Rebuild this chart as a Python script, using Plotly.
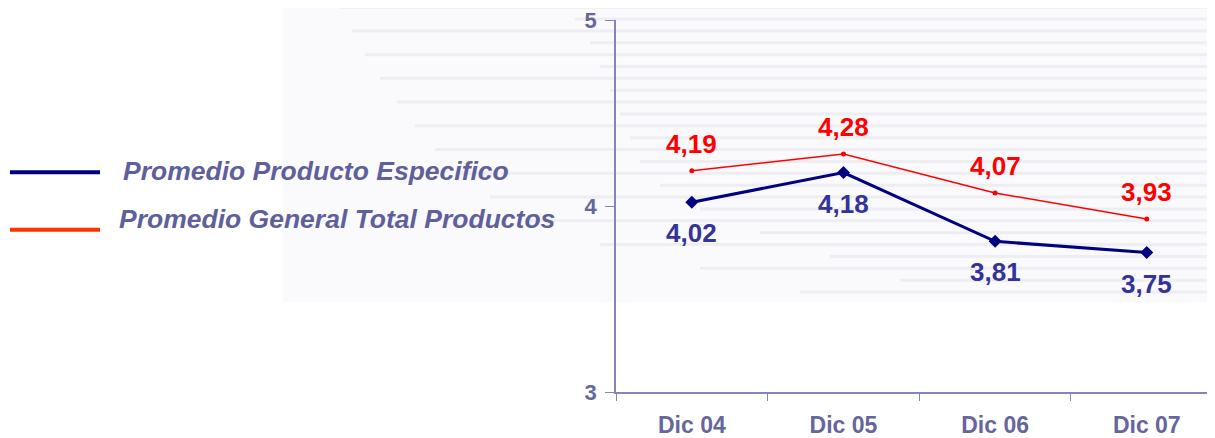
import plotly.graph_objects as go

categories = ["Dic 04", "Dic 05", "Dic 06", "Dic 07"]
producto_especifico = [4.02, 4.18, 3.81, 3.75]
general_total = [4.19, 4.28, 4.07, 3.93]
series_names = ["Promedio Producto Especifico", "Promedio General Total Productos"]
y_ticks = [3, 4, 5]

FONT = "Liberation Sans, Arial, sans-serif"
OFF = 8  # page body margin
W, H = 1215 - OFF, 438 - OFF
L, R, T, B = 616 - OFF, 0, 18 - OFF, 44
pw, ph = W - L - R, H - T - B


def px(x):  # page pixel -> paper x
    return (x - OFF - L) / pw


def py(y):  # page pixel -> paper y
    return (H - B - (y - OFF)) / ph


def fmt(v):
    return f"{v:.2f}".replace(".", ",")


fig = go.Figure()
fig.add_trace(go.Scatter(
    x=categories, y=general_total, mode="lines+markers",
    line=dict(color="#ff0000", width=1.5),
    marker=dict(symbol="circle", size=5, color="#ff0000"),
    showlegend=False, cliponaxis=False,
))
fig.add_trace(go.Scatter(
    x=categories, y=producto_especifico, mode="lines+markers",
    line=dict(color="#000080", width=3),
    marker=dict(symbol="diamond", size=10, color="#000080"),
    showlegend=False, cliponaxis=False,
))

annotations = []
for c, v in zip(categories, general_total):
    annotations.append(dict(x=c, y=v, text=fmt(v), showarrow=False, yshift=27,
                            xanchor="center", yanchor="middle",
                            font=dict(family=FONT, size=26, color="#ff0000", weight="bold")))
for c, v in zip(categories, producto_especifico):
    annotations.append(dict(x=c, y=v, text=fmt(v), showarrow=False, yshift=-31,
                            xanchor="center", yanchor="middle",
                            font=dict(family=FONT, size=26, color="#333399", weight="bold")))

shapes = []
# faint striped background decoration
shapes.append(dict(type="rect", xref="paper", yref="paper", x0=px(283), x1=px(1215),
                   y0=py(303), y1=py(0), fillcolor="#fafafc", line=dict(width=0), layer="below"))
lefts = [340, 575, 352, 590, 365, 600, 380, 610, 397, 620, 415, 630, 435, 640, 455, 660,
         490, 700, 530, 760, 600, 830, 700, 900, 800]
for i, lx in enumerate(lefts):
    yy = 5 + 12 * i
    shapes.append(dict(type="line", xref="paper", yref="paper", x0=px(lx), x1=px(1215),
                       y0=py(yy), y1=py(yy), line=dict(color="#ededf3", width=3), layer="below"))

legend_colors = ["#000080", "#ff3300"]
legend_y = [172, 230]
text_y = [171, 219]
text_x = [121, 117]
for name, c, ly, ty, tx in zip(series_names, legend_colors, legend_y, text_y, text_x):
    shapes.append(dict(type="line", xref="paper", yref="paper", x0=px(10), x1=px(100),
                       y0=py(ly), y1=py(ly), line=dict(color=c, width=4)))
    annotations.append(dict(xref="paper", yref="paper", x=px(tx), y=py(ty), text=f"<i>{name}</i>",
                            showarrow=False, xanchor="left", yanchor="middle",
                            font=dict(family=FONT, size=26.5, color="#5f5f9c", weight="bold")))

fig.update_layout(
    width=W, height=H, margin=dict(l=L, r=R, t=T, b=B),
    paper_bgcolor="white", plot_bgcolor="rgba(0,0,0,0)",
    shapes=shapes, annotations=annotations, showlegend=False,
    xaxis=dict(type="category", categoryarray=categories, range=[-0.5, 3.45],
               tickson="boundaries", ticks="outside", ticklen=7, tickcolor="#8484b8",
               showline=True, linecolor="#8484b8", linewidth=1.5, showgrid=False,
               ticklabelstandoff=12, ticklabeloverflow="allow",
               tickfont=dict(family=FONT, size=23, color="#66669c", weight="bold")),
    yaxis=dict(range=[3, 5], tickvals=y_ticks, ticks="outside", ticklen=9, tickcolor="#8484b8",
               showline=True, linecolor="#8484b8", linewidth=1.5, showgrid=False, zeroline=False,
               ticklabelstandoff=4, ticklabeloverflow="allow",
               tickfont=dict(family=FONT, size=22, color="#66669c", weight="bold")),
)

fig.write_html("out.html")
